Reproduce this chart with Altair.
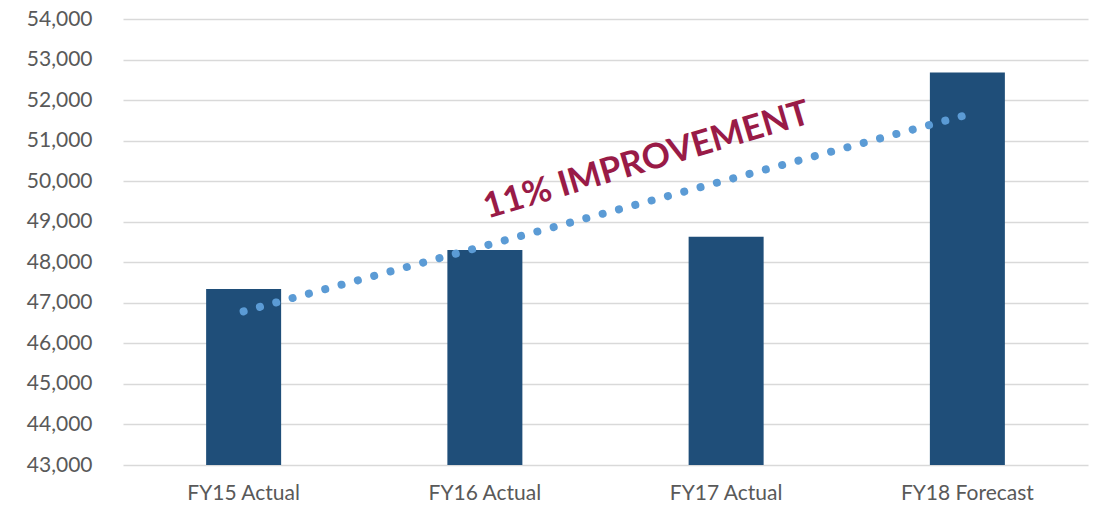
import altair as alt
import pandas as pd

categories = ["FY15 Actual", "FY16 Actual", "FY17 Actual", "FY18 Forecast"]
values = [47340, 48300, 48630, 52680]
trend_cats = ["FY15 Actual", "FY18 Forecast"]
trend_vals = [46790, 51640]
y_min, y_max = 43000, 54000
y_ticks = list(range(43000, 54001, 1000))
note_text = ["11% IMPROVEMENT"]
note_cat = ["FY16 Actual"]
note_val = [50520]

bars_df = pd.DataFrame({"cat": categories, "val": values})
trend_df = pd.DataFrame({"cat": trend_cats, "val": trend_vals})
note_df = pd.DataFrame({"cat": note_cat, "val": note_val, "txt": note_text})

font = "Lato"
xscale = alt.Scale(domain=categories, paddingInner=0, paddingOuter=0)
yscale = alt.Scale(domain=[y_min, y_max], zero=False, nice=False)

x_axis = alt.Axis(title=None, labelAngle=0, ticks=False, domain=False,
                  labelFontSize=21, labelFont=font, labelColor="#595959",
                  labelPadding=17, grid=False)
y_axis = alt.Axis(title=None, values=y_ticks, format=",.0f", ticks=False, domain=False,
                  labelFontSize=21, labelFont=font, labelColor="#595959",
                  labelPadding=31, grid=True, gridColor="#D9D9D9", gridWidth=1.5)

def xe():
    return alt.X("cat:N", scale=xscale, sort=categories, axis=x_axis)

def ye():
    return alt.Y("val:Q", scale=yscale, axis=y_axis)

bars = alt.Chart(bars_df).mark_bar(size=75, color="#1F4E79").encode(
    x=xe(), y=ye(), y2=alt.datum(y_min)
)

trend = alt.Chart(trend_df).mark_line(
    color="#5B9BD5", strokeWidth=8, strokeCap="round", strokeDash=[0.01, 16.9]
).encode(x=xe(), y=ye())

note = alt.Chart(note_df).mark_text(
    font=font, fontSize=35, fontWeight="bold", color="#991B47", angle=343.5,
    align="center", baseline="middle", dx=155, dy=46
).encode(x=xe(), y=ye(), text="txt:N")

chart = alt.layer(bars, trend, note).properties(
    width=965, height=446,
    background="white",
    autosize=alt.AutoSizeParams(type="none"),
    padding={"left": 115, "top": 11, "right": 6, "bottom": 37},
).configure_view(stroke=None)

chart.save("out.html", embed_options={"renderer": "svg", "actions": False})
